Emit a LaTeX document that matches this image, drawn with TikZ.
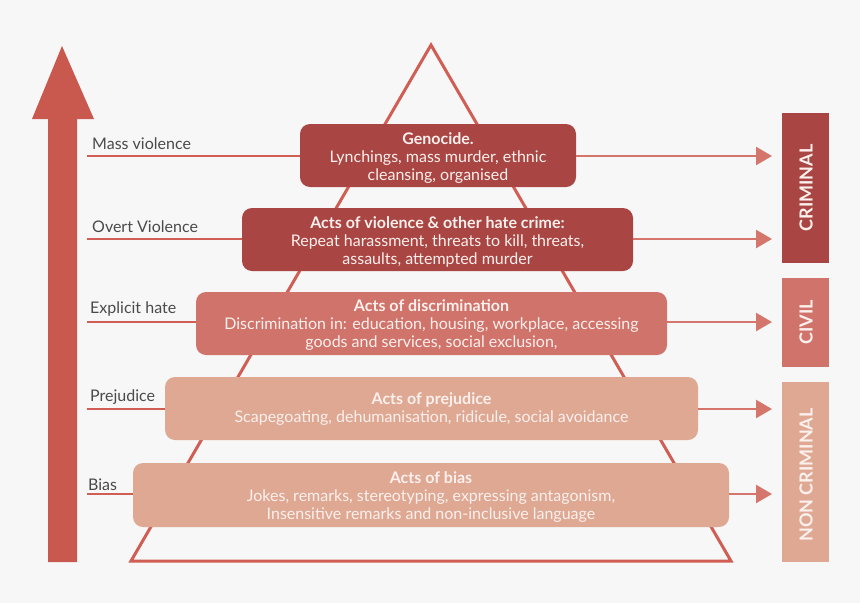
\documentclass[tikz,border=0pt]{standalone}
\usepackage{fontspec}
\setmainfont{Lato}
\usetikzlibrary{arrows.meta}
\definecolor{bg}{HTML}{F7F7F7}
\definecolor{cdark}{HTML}{A94542}
\definecolor{cmid}{HTML}{D0736A}
\definecolor{clight}{HTML}{DFA893}
\definecolor{cbig}{HTML}{C9594E}
\definecolor{cline}{HTML}{D05E55}
\definecolor{carrow}{HTML}{D4766C}
\definecolor{ctext}{HTML}{FBF0ED}
\definecolor{clabel}{HTML}{4A4A4A}
\tikzset{
  boxtext/.style={text=ctext, align=center, font=\fontsize{16}{18}\selectfont, inner sep=0pt},
  lvlabel/.style={text=clabel, font=\fontsize{16}{18}\selectfont, anchor=south west, inner sep=0pt},
  lead/.style={cline, line width=2.5pt},
  outarrow/.style={carrow, line width=2.5pt, -{Triangle[length=16pt,width=18pt]}},
  legaltext/.style={text=ctext, font=\fontsize{18}{18}\selectfont\bfseries, rotate=90}
}
\begin{document}
\begin{tikzpicture}[x=1pt,y=-1pt]
\fill[bg] (0,0) rectangle (860,603);
\useasboundingbox (0,0) rectangle (860,603);
% big arrow
\fill[cbig] (48,562) -- (77,562) -- (77,119) -- (94,119) -- (62,46) -- (32,119) -- (48,119) -- cycle;
% pyramid
\coordinate (apex) at (431,45);
\coordinate (bl) at (131,561);
\coordinate (br) at (731,561);
\draw[cline, line width=3pt, line join=miter] (apex) -- (bl) -- (br) -- cycle;
% anchors
\coordinate (l1) at (87,156);
\coordinate (l2) at (87,239);
\coordinate (l3) at (87,322);
\coordinate (l4) at (87,409);
\coordinate (l5) at (87,494);
\coordinate (r1) at (772,156);
\coordinate (r2) at (772,239);
\coordinate (r3) at (772,322);
\coordinate (r4) at (772,409);
\coordinate (r5) at (772,494);
% lead lines
\draw[lead] (l1) -- (310,156);
\draw[lead] (l2) -- (250,239);
\draw[lead] (l3) -- (205,322);
\draw[lead] (l4) -- (175,409);
\draw[lead] (l5) -- (140,494);
% boxes
\path[fill=cdark, rounded corners=10pt] (300,124) rectangle (576,187);
\path[fill=cdark, rounded corners=10pt] (242,208) rectangle (633,271);
\path[fill=cmid, rounded corners=10pt] (196,292) rectangle (667,355);
\path[fill=clight, rounded corners=10pt] (165,377) rectangle (698,440);
\path[fill=clight, rounded corners=10pt] (133,463) rectangle (729,527);
\coordinate (b1) at (576,156);
\coordinate (b2) at (633,239);
\coordinate (b3) at (667,322);
\coordinate (b4) at (698,409);
\coordinate (b5) at (729,494);
\node[boxtext] (t1) at (438,158) {\textbf{Genocide.}\\Lynchings, mass murder, ethnic\\cleansing, organised};
\node[boxtext] (t2) at (437.5,241.5) {\textbf{Acts of violence \& other hate crime:}\\Repeat harassment, threats to kill, threats,\\assaults, attempted murder};
\node[boxtext] (t3) at (431.5,325.5) {\textbf{Acts of discrimination}\\Discrimination in: education, housing, workplace, accessing\\goods and services, social exclusion,};
\node[boxtext] (t4) at (431.5,409.5) {\textbf{Acts of prejudice}\\Scapegoating, dehumanisation, ridicule, social avoidance};
\node[boxtext] (t5) at (431,497.5) {\textbf{Acts of bias}\\Jokes, remarks, stereotyping, expressing antagonism,\\Insensitive remarks and non-inclusive language};
% out arrows
\draw[outarrow] (b1) -- (r1);
\draw[outarrow] (b2) -- (r2);
\draw[outarrow] (b3) -- (r3);
\draw[outarrow] (b4) -- (r4);
\draw[outarrow] (b5) -- (r5);
% level labels
\node[lvlabel] (m1) at (92,150) {Mass violence};
\node[lvlabel] (m2) at (92,233) {Overt Violence};
\node[lvlabel] (m3) at (90,316) {Explicit hate};
\node[lvlabel] (m4) at (90,405) {Prejudice};
\node[lvlabel] (m5) at (88,491) {Bias};
% legal categories
\fill[cdark] (782,113) rectangle (829,263);
\fill[cmid] (782,278) rectangle (829,367);
\fill[clight] (782,382) rectangle (829,562);
\node[legaltext] (c1) at (806,188) {CRIMINAL};
\node[legaltext] (c2) at (806,322.5) {CIVIL};
\node[legaltext] (c3) at (806,475) {NON CRIMINAL};
\end{tikzpicture}
\end{document}
